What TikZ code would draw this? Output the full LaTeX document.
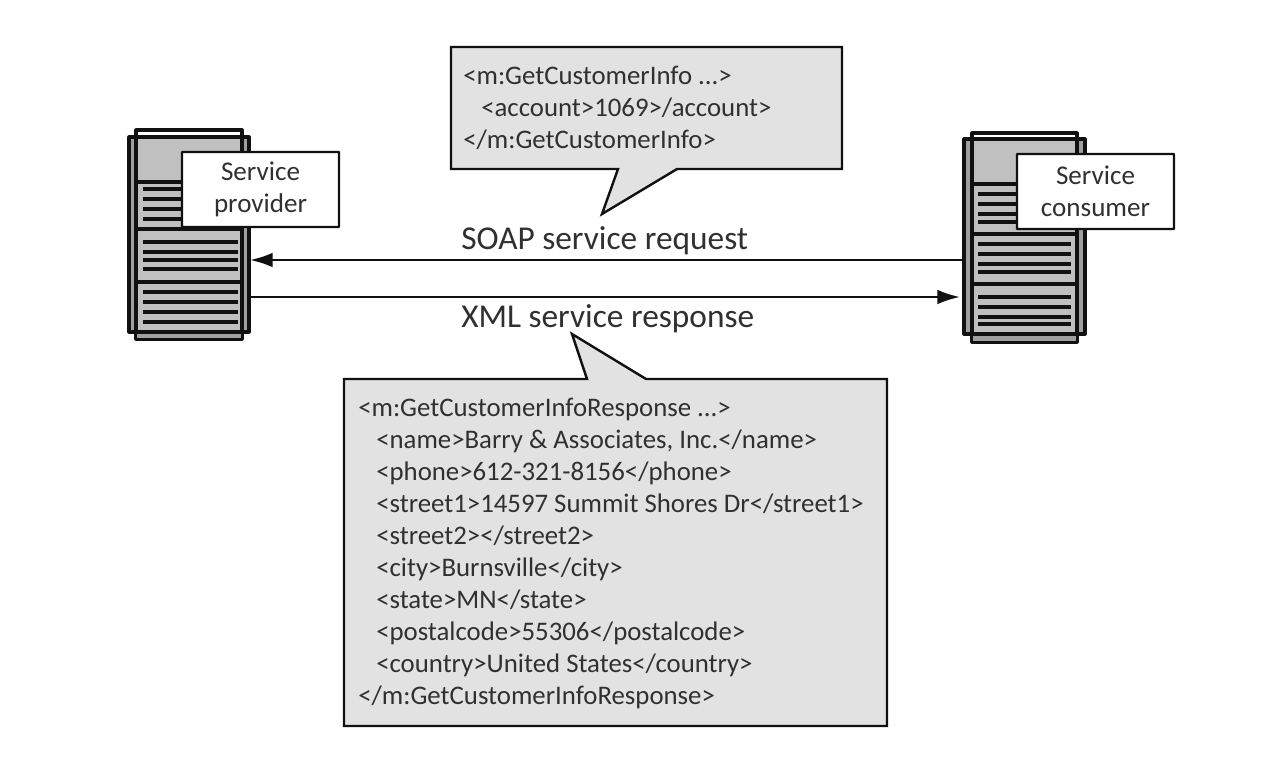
\documentclass[tikz,border=0pt]{standalone}
\usepackage{fontspec}
\setmainfont{Carlito}
\usetikzlibrary{arrows.meta}
\definecolor{srvfill}{HTML}{C0C0C0}
\definecolor{srvdark}{HTML}{A0A0A0}
\definecolor{calloutfill}{HTML}{E2E2E2}
\definecolor{inkcol}{HTML}{111111}
\definecolor{txtcol}{HTML}{303030}
\tikzset{
  x=0.75pt,y=-0.75pt,
  srvline/.style={draw=inkcol,line width=2.3pt,line join=round},
  srvrule/.style={draw=inkcol,line width=2.4pt},
  labelbox/.style={draw=inkcol,fill=white,line width=1.8pt,rounded corners=0.5pt},
  calloutshape/.style={draw=inkcol,fill=calloutfill,line width=1.8pt,line join=miter},
  labeltext/.style={font=\fontsize{20.3}{24}\selectfont,text=txtcol,align=center,inner sep=0pt},
  msgtext/.style={font=\fontsize{20.1}{24}\selectfont,text=txtcol,anchor=base west,inner sep=0pt,yshift=-1pt},
  captext/.style={font=\fontsize{25}{26}\selectfont,text=txtcol,anchor=base west,inner sep=0pt,yshift=-1pt},
  flow/.style={draw=inkcol,line width=1.8pt,-{Latex[length=17pt,width=11pt]}},
}
\begin{document}
\begin{tikzpicture}
\useasboundingbox (0,0) rectangle (1264,774);
\fill[white] (0,0) rectangle (1264,774);
% left server
\draw[srvline,fill=srvdark] (129,137) rectangle (249,332);
\draw[srvline,fill=white] (136,130) rectangle (242,339);
\fill[srvdark] (137,333) rectangle (241,338);
\draw[srvline,fill=srvfill] (136,137) rectangle (242,182);
\draw[srvline,fill=srvfill] (136,182) rectangle (242,229);
\draw[srvline,fill=srvfill] (136,229) rectangle (242,282);
\draw[srvline,fill=srvfill] (136,282) rectangle (242,332);
\foreach \yy in {189,199,209,219,242,252,260,269,292,302,312,322}
  \draw[srvrule] (143,\yy) -- (238,\yy);
% right server
\draw[srvline,fill=srvdark] (964,139) rectangle (1085,334);
\draw[srvline,fill=white] (972,133) rectangle (1077,342);
\fill[srvdark] (973,335) rectangle (1076,341);
\draw[srvline,fill=srvfill] (972,139) rectangle (1077,184);
\draw[srvline,fill=srvfill] (972,184) rectangle (1077,234);
\draw[srvline,fill=srvfill] (972,234) rectangle (1077,284);
\draw[srvline,fill=srvfill] (972,284) rectangle (1077,334);
\foreach \yy in {194,204,214,222,244,254,264,272,297,307,317,324}
  \draw[srvrule] (978,\yy) -- (1071,\yy);
% label boxes
\node[labelbox,labeltext,minimum width=117.75pt,minimum height=56.25pt,inner sep=0pt] (prov) at (260.5,189.5) {Service\\provider};
\node[labelbox,labeltext,minimum width=117.75pt,minimum height=56.25pt,inner sep=0pt] (cons) at (1095.5,191.5) {Service\\consumer};
% anchors
\coordinate (provE1) at (250,260);
\coordinate (consW1) at (964,260);
\coordinate (provE2) at (249,297);
\coordinate (consW2) at (960,297);
\draw[flow] (consW1) -- (provE1);
\draw[flow] (provE2) -- (consW2);
% request callout
\draw[calloutshape] (451,47) -- (842,47) -- (842,169) -- (677,169) -- (602,214) -- (618,169) -- (451,169) -- cycle;
\node[msgtext] (r1) at (463,83) {<m:GetCustomerInfo ...>};
\node[msgtext] (r2) at (481,115) {<account>1069>/account>};
\node[msgtext] (r3) at (463,147) {</m:GetCustomerInfo>};
% response callout
\draw[calloutshape] (344,379) -- (587,379) -- (572,334) -- (646,379) -- (887,379) -- (887,726) -- (344,726) -- cycle;
\node[msgtext] (a0) at (358,415) {<m:GetCustomerInfoResponse ...>};
\node[msgtext] (a1) at (376,447) {<name>Barry \& Associates, Inc.</name>};
\node[msgtext] (a2) at (376,479) {<phone>612-321-8156</phone>};
\node[msgtext] (a3) at (376,511) {<street1>14597 Summit Shores Dr</street1>};
\node[msgtext] (a4) at (376,543) {<street2></street2>};
\node[msgtext] (a5) at (376,575) {<city>Burnsville</city>};
\node[msgtext] (a6) at (376,607) {<state>MN</state>};
\node[msgtext] (a7) at (376,639) {<postalcode>55306</postalcode>};
\node[msgtext] (a8) at (376,671) {<country>United States</country>};
\node[msgtext] (a9) at (358,703) {</m:GetCustomerInfoResponse>};
% captions
\node[captext] (soap) at (461,248) {SOAP service request};
\node[captext] (xml) at (461,326) {XML service response};
\end{tikzpicture}
\end{document}
